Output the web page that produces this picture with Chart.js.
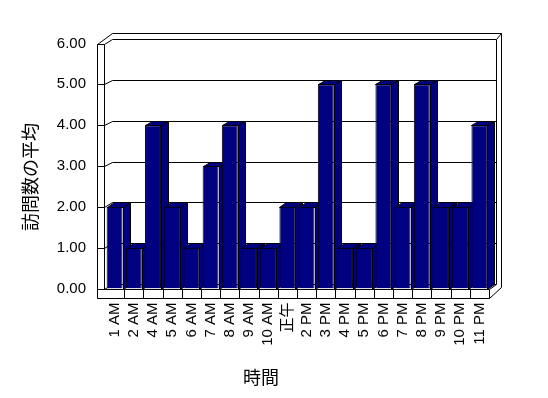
<!DOCTYPE html>
<html><head><meta charset="utf-8">
<script src="https://cdn.jsdelivr.net/npm/chart.js@4"></script>
<style>html,body{margin:0;padding:0;background:#fff;} #wrap{width:548px;height:398px;}</style>
</head><body><div id="wrap"><canvas id="c" width="548" height="398"></canvas></div>
<script>
const categories = ['1 AM','2 AM','4 AM','5 AM','6 AM','7 AM','8 AM','9 AM','10 AM','正午','2 PM','3 PM','4 PM','5 PM','6 PM','7 PM','8 PM','9 PM','10 PM','11 PM'];
const visits = [2,1,4,2,1,3,4,1,1,2,2,5,1,1,5,2,5,2,2,4];
const yTicks = [0,1,2,3,4,5,6];
const yTitle = '訪問数の平均';
const xTitle = '時間';

const LATIN = "'Liberation Sans', 'Noto Sans CJK JP', sans-serif";
const CJK = "'Noto Sans CJK JP', sans-serif";
const DX = 7, DY = 4.5;

function px(v){ return Math.round(v) + 0.5; }
function path(ctx, pts){ ctx.beginPath(); pts.forEach((p,i)=>{ const x=px(p[0]), y=px(p[1]); if(i) ctx.lineTo(x,y); else ctx.moveTo(x,y); }); }
function line(ctx, pts){ path(ctx, pts); ctx.stroke(); }

const frame3d = {
  id: 'frame3d',
  beforeDatasetsDraw(chart){
    const ctx = chart.ctx;
    const {left:L, right:R, top:T, bottom:B} = chart.chartArea;
    const ys = chart.scales.y, xs = chart.scales.x;
    ctx.save();
    ctx.strokeStyle = '#000'; ctx.lineWidth = 1;
    // gridlines: left wall tick + slant + back wall line
    yTicks.forEach(v => {
      const yf = ys.getPixelForValue(v);
      line(ctx, [[L-8, yf],[L-1, yf],[L+DX, yf-DY],[R+DX, yf-DY]]);
    });
    // left wall
    line(ctx, [[L-8, T],[L-8, B+9.5]]);
    line(ctx, [[L-1, T],[L-1, B]]);
    line(ctx, [[L-8, T],[L+6.5, T-11]]);
    // top outer and right outer
    line(ctx, [[L+6.5, T-11],[R+12, T-11],[R+12, B-2],[R, B+9.5]]);
    line(ctx, [[R+DX, T-DY],[R+12, T-11]]);
    line(ctx, [[R+DX, T-DY],[R+DX, B-DY]]);
    // floor
    line(ctx, [[L-8, B+9.5],[R, B+9.5]]);
    line(ctx, [[L-8, B],[R, B]]);
    line(ctx, [[R, B],[R, B+9.5]]);
    line(ctx, [[R, B],[R+DX, B-DY]]);
    for (let i = 1; i < categories.length; i++) {
      const xb = (xs.getPixelForTick(i-1) + xs.getPixelForTick(i)) / 2;
      line(ctx, [[xb, B],[xb, B+9.5]]);
    }
    // bar side & top faces
    const meta = chart.getDatasetMeta(0);
    ctx.fillStyle = '#000080';
    meta.data.forEach(bar => {
      const p = bar.getProps(['x','y','base','width'], true);
      const l = p.x - p.width/2, r = p.x + p.width/2, t = p.y, b = p.base;
      path(ctx, [[r,t],[r+DX,t-DY],[r+DX,b-DY],[r,b]]); ctx.closePath(); ctx.fill(); ctx.stroke();
      path(ctx, [[l,t],[l+DX,t-DY],[r+DX,t-DY],[r,t]]); ctx.closePath(); ctx.fill(); ctx.stroke();
    });
    ctx.restore();
  },
  afterDraw(chart){
    const ctx = chart.ctx;
    ctx.save();
    ctx.fillStyle = '#000';
    ctx.font = '18px ' + CJK;
    ctx.textAlign = 'center'; ctx.textBaseline = 'middle';
    ctx.fillText(xTitle, 261, 377);
    ctx.translate(30, 177); ctx.rotate(-Math.PI/2);
    ctx.fillText(yTitle, 0, 0);
    ctx.restore();
  }
};

new Chart(document.getElementById('c'), {
  type: 'bar',
  data: { labels: categories, datasets: [{ data: visits, backgroundColor: '#000080', borderColor: '#000', borderWidth: 1, barPercentage: 0.83, categoryPercentage: 1 }] },
  options: {
    responsive: false, animation: false, devicePixelRatio: 1,
    layout: { autoPadding: false, padding: { left: 0, right: 59, top: 43.5, bottom: 0 } },
    plugins: { legend: { display: false }, tooltip: { enabled: false } },
    scales: {
      x: {
        grid: { display: false, drawTicks: false }, border: { display: false },
        ticks: { color: '#000', font: { family: LATIN, size: 15 }, maxRotation: 90, minRotation: 90, autoSkip: false, padding: 14 },
        afterFit: s => { s.height = 109.5; }
      },
      y: {
        min: 0, max: 6,
        afterBuildTicks: s => { s.ticks = yTicks.map(v => ({ value: v })); },
        grid: { display: false, drawTicks: false }, border: { display: false },
        ticks: { color: '#000', font: { family: LATIN, size: 15 }, padding: 19, callback: v => Number(v).toFixed(2) },
        afterFit: s => { s.width = 105; }
      }
    }
  },
  plugins: [frame3d]
});
</script></body></html>
